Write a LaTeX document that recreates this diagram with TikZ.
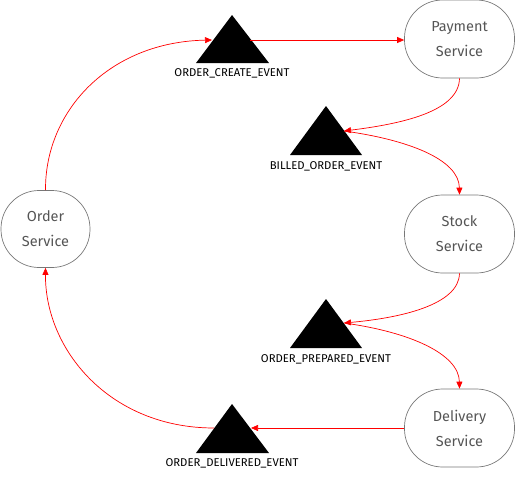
\documentclass[tikz,border=0pt]{standalone}
\usepackage{fontspec}
\setmainfont{Fira Sans}
\usetikzlibrary{arrows.meta}
\definecolor{svctext}{HTML}{555555}
\definecolor{svcline}{HTML}{777777}
\tikzset{
  svc/.style={draw=svcline, line width=0.7pt, rounded corners=38pt, minimum width=110pt, minimum height=78pt, inner sep=0pt, align=center, text=svctext, font=\fontsize{14.5}{25}\selectfont},
  evtlabel/.style={font=\fontsize{11.3}{12}\selectfont, text=black, inner sep=0pt},
  flow/.style={draw=red, line width=0.7pt, -{Triangle[length=7pt,width=6pt]}},
}
\begin{document}
\begin{tikzpicture}[x=1pt,y=-1pt]
\useasboundingbox (0,0) rectangle (515,477);
% services
\node[svc] (pay) at (459.5,39) {Payment\\Service};
\node[svc] (stock) at (459.5,234) {Stock\\Service};
\node[svc] (deliv) at (459.5,428) {Delivery\\Service};
\node[svc, minimum width=89pt, minimum height=77pt, rounded corners=38pt] (order) at (45.5,229) {Order\\Service};
% events
\fill (232,15) -- (269,63) -- (196,63) -- cycle;
\node[evtlabel] (createL) at (232,73) {ORDER\_CREATE\_EVENT};
\coordinate (createIn) at (212,40);
\coordinate (createOut) at (250,40);
\fill (326,106) -- (362,155) -- (290,155) -- cycle;
\node[evtlabel] (billedL) at (326,166) {BILLED\_ORDER\_EVENT};
\coordinate (billed) at (344,131);
\fill (326,299) -- (362,348) -- (290,348) -- cycle;
\node[evtlabel] (prepL) at (326,359) {ORDER\_PREPARED\_EVENT};
\coordinate (prep) at (344,323);
\fill (232,404) -- (269,453) -- (196,453) -- cycle;
\node[evtlabel] (delivL) at (232,463) {ORDER\_DELIVERED\_EVENT};
\coordinate (delivIn) at (251,428);
\coordinate (delivOut) at (214,428);
% connectors
\draw[flow] (order.north) .. controls (45,110) and (110,42) .. (createIn);
\draw[flow] (createOut) -- (pay.west |- createOut);
\draw[flow] (pay.south) .. controls (459,112) and (400,124) .. (billed);
\draw[flow] (billed) .. controls (410,140) and (459,160) .. (stock.north);
\draw[flow] (stock.south) .. controls (459,305) and (400,318) .. (prep);
\draw[flow] (prep) .. controls (410,332) and (459,354) .. (deliv.north);
\draw[flow] (deliv.west) -- (delivIn);
\draw[flow] (delivOut) .. controls (110,428) and (45,350) .. (order.south);
\end{tikzpicture}
\end{document}
